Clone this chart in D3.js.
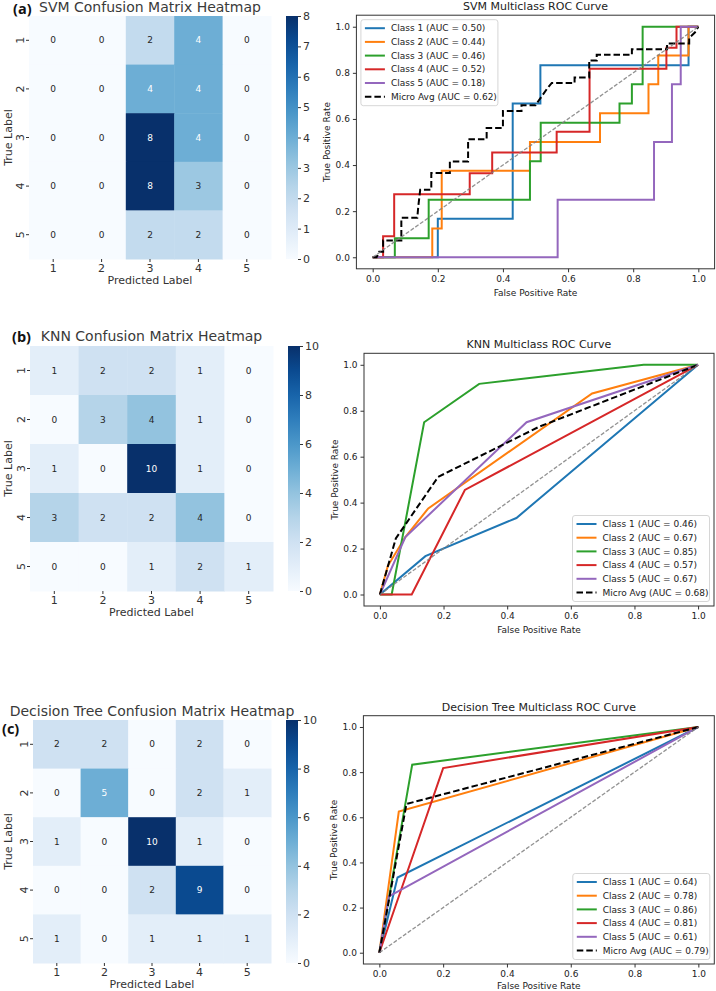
<!DOCTYPE html>
<html lang="en">
<head>
<meta charset="UTF-8"/>
<title>Confusion matrices and ROC curves</title>
<script src="https://cdn.jsdelivr.net/npm/d3@7"></script>
<style>
    body { margin: 0; background: #fff; }
    svg text { font-family: "DejaVu Sans", sans-serif; }
</style>
</head>
<body>
<script>
// ---- data ----
var classLabels = ["1", "2", "3", "4", "5"];

var svmMatrix = [
    [0, 0, 2, 4, 0],
    [0, 0, 4, 4, 0],
    [0, 0, 8, 4, 0],
    [0, 0, 8, 3, 0],
    [0, 0, 2, 2, 0]
];
var knnMatrix = [
    [1, 2, 2, 1, 0],
    [0, 3, 4, 1, 0],
    [1, 0, 10, 1, 0],
    [3, 2, 2, 4, 0],
    [0, 0, 1, 2, 1]
];
var dtMatrix = [
    [2, 2, 0, 2, 0],
    [0, 5, 0, 2, 1],
    [1, 0, 10, 1, 0],
    [0, 0, 2, 9, 0],
    [1, 0, 1, 1, 1]
];

var svmCbarTicks = [0, 1, 2, 3, 4, 5, 6, 7, 8];
var tenCbarTicks = [0, 2, 4, 6, 8, 10];
var rocTicks = [0, 0.2, 0.4, 0.6, 0.8, 1.0];

var seriesNames = ["Class 1", "Class 2", "Class 3", "Class 4", "Class 5", "Micro Avg"];
var svmAuc = [0.50, 0.44, 0.46, 0.52, 0.18, 0.62];
var knnAuc = [0.46, 0.67, 0.85, 0.57, 0.67, 0.68];
var dtAuc = [0.64, 0.78, 0.86, 0.81, 0.61, 0.79];

// [fpr, tpr] vertices, class 1..5 then micro average
var svmCurves = [
    [[0,0],[0.2,0],[0.2,0.167],[0.43,0.167],[0.43,0.667],[0.515,0.667],[0.515,0.833],[0.97,0.833],[0.97,1],[1,1]],
    [[0,0],[0.183,0],[0.183,0.125],[0.212,0.125],[0.212,0.375],[0.483,0.375],[0.483,0.5],[0.698,0.5],[0.698,0.625],[0.847,0.625],[0.847,0.75],[0.877,0.75],[0.877,0.875],[0.97,0.875],[0.97,1],[1,1]],
    [[0,0],[0.068,0],[0.068,0.083],[0.172,0.083],[0.172,0.25],[0.483,0.25],[0.483,0.417],[0.516,0.417],[0.516,0.583],[0.758,0.583],[0.758,0.667],[0.796,0.667],[0.796,0.75],[0.829,0.75],[0.829,1],[1,1]],
    [[0,0],[0.032,0],[0.032,0.091],[0.066,0.091],[0.066,0.273],[0.298,0.273],[0.298,0.364],[0.367,0.364],[0.367,0.455],[0.565,0.455],[0.565,0.545],[0.666,0.545],[0.666,0.818],[0.902,0.818],[0.902,0.909],[0.933,0.909],[0.933,1],[1,1]],
    [[0,0],[0.568,0],[0.568,0.25],[0.864,0.25],[0.864,0.5],[0.919,0.5],[0.919,0.75],[0.946,0.75],[0.946,1],[1,1]],
    [[0,0],[0.012,0],[0.02,0.024],[0.032,0.024],[0.032,0.073],[0.088,0.073],[0.088,0.171],[0.137,0.171],[0.14,0.22],[0.146,0.293],[0.18,0.293],[0.18,0.366],[0.237,0.366],[0.237,0.415],[0.293,0.415],[0.293,0.512],[0.35,0.512],[0.35,0.561],[0.4,0.561],[0.4,0.634],[0.457,0.634],[0.457,0.659],[0.5,0.659],[0.51,0.68],[0.52,0.70],[0.535,0.73],[0.55,0.756],[0.62,0.756],[0.62,0.78],[0.665,0.78],[0.665,0.854],[0.688,0.854],[0.688,0.878],[0.796,0.878],[0.796,0.902],[0.904,0.902],[0.904,0.927],[0.972,0.927],[0.972,0.951],[0.99,0.976],[1,1]]
];
var knnCurves = [
    [[0,0],[0.143,0.167],[0.429,0.333],[1,1]],
    [[0,0],[0.025,0.125],[0.08,0.25],[0.152,0.375],[0.667,0.875],[1,1]],
    [[0,0],[0.037,0],[0.139,0.75],[0.312,0.917],[0.829,1],[1,1]],
    [[0,0],[0.1,0],[0.267,0.455],[1,1]],
    [[0,0],[0.08,0.25],[0.461,0.75],[1,1]],
    [[0,0],[0.05,0.244],[0.183,0.512],[0.5,0.73],[1,1]]
];
var dtCurves = [
    [[0,0],[0.057,0.333],[1,1]],
    [[0,0],[0.061,0.625],[1,1]],
    [[0,0],[0.103,0.833],[1,1]],
    [[0,0],[0.2,0.818],[1,1]],
    [[0,0],[0.03,0.25],[1,1]],
    [[0,0],[0.085,0.659],[1,1]]
];

// ---- styles ----
var lineColors = ["#1f77b4", "#ff7f0e", "#2ca02c", "#d62728", "#9467bd", "#000"];

var svg = d3.select("body").append("svg")
    .attr("width", 716)
    .attr("height", 991);

function luminance(c) {
    var rgb = d3.rgb(c);
    function f(v) {
        v = v / 255;
        return v <= 0.03928 ? v / 12.92 : Math.pow((v + 0.055) / 1.055, 2.4);
    }
    return 0.2126 * f(rgb.r) + 0.7152 * f(rgb.g) + 0.0722 * f(rgb.b);
}

function drawHeatmap(matrix, title, tag, cbTicks, L, id) {
    var g = svg.append("g");
    var x = d3.scaleBand().domain(classLabels).range([L.x0, L.x1]);
    var y = d3.scaleBand().domain(classLabels).range([L.y0, L.y1]);
    var vmax = d3.max(cbTicks);
    var color = d3.scaleSequential(d3.interpolateBlues).domain([0, vmax]);

    var cells = [];
    matrix.forEach(function(row, i) {
        row.forEach(function(v, j) {
            cells.push({ r: classLabels[i], c: classLabels[j], v: v });
        });
    });

    g.selectAll("rect.cell")
        .data(cells)
        .enter()
        .append("rect")
        .attr("class", "cell")
        .attr("x", function(d) { return x(d.c); })
        .attr("y", function(d) { return y(d.r); })
        .attr("width", x.bandwidth() + 0.5)
        .attr("height", y.bandwidth() + 0.5)
        .attr("fill", function(d) { return color(d.v); });

    g.selectAll("text.annot")
        .data(cells)
        .enter()
        .append("text")
        .attr("class", "annot")
        .attr("x", function(d) { return x(d.c) + x.bandwidth() / 2; })
        .attr("y", function(d) { return y(d.r) + y.bandwidth() / 2; })
        .attr("dy", "0.35em")
        .attr("text-anchor", "middle")
        .attr("font-size", 9)
        .attr("fill", function(d) { return luminance(color(d.v)) > 0.408 ? "#262626" : "#fff"; })
        .text(function(d) { return d.v; });

    // axes
    var xAxis = g.append("g")
        .attr("transform", "translate(0," + L.y1 + ")")
        .call(d3.axisBottom(x).tickSize(3).tickPadding(2));
    xAxis.select(".domain").remove();
    xAxis.selectAll("line").attr("stroke", "#333");
    xAxis.selectAll("text").attr("font-size", 11).attr("fill", "#333")
        .attr("font-family", "DejaVu Sans");

    var yAxis = g.append("g")
        .attr("transform", "translate(" + L.x0 + ",0)")
        .call(d3.axisLeft(y).tickSize(3));
    yAxis.select(".domain").remove();
    yAxis.selectAll("line").attr("stroke", "#333");
    yAxis.selectAll("text")
        .attr("x", null).attr("dy", null)
        .attr("text-anchor", "middle")
        .attr("transform", "translate(-5,0) rotate(-90)")
        .attr("font-size", 11).attr("fill", "#333")
        .attr("font-family", "DejaVu Sans");

    g.append("text")
        .attr("x", (L.x0 + L.x1) / 2)
        .attr("y", L.y1 + 25)
        .attr("text-anchor", "middle")
        .attr("font-size", 11).attr("fill", "#333")
        .text("Predicted Label");

    g.append("text")
        .attr("transform", "translate(12," + ((L.y0 + L.y1) / 2) + ") rotate(-90)")
        .attr("text-anchor", "middle")
        .attr("font-size", 11).attr("fill", "#333")
        .text("True Label");

    // colorbar
    var grad = svg.append("defs").append("linearGradient")
        .attr("id", id)
        .attr("x1", "0").attr("y1", "1").attr("x2", "0").attr("y2", "0");
    d3.range(0, 1.0001, 0.1).forEach(function(t) {
        grad.append("stop").attr("offset", t).attr("stop-color", d3.interpolateBlues(t));
    });
    g.append("rect")
        .attr("x", L.cbX)
        .attr("y", L.y0)
        .attr("width", 12)
        .attr("height", L.y1 - L.y0)
        .attr("fill", "url(#" + id + ")");
    var cbScale = d3.scaleLinear().domain([0, vmax]).range([L.y1, L.y0]);
    var cbAxis = g.append("g")
        .attr("transform", "translate(" + (L.cbX + 12) + ",0)")
        .call(d3.axisRight(cbScale).tickValues(cbTicks).tickSize(3).tickPadding(2));
    cbAxis.select(".domain").remove();
    cbAxis.selectAll("line").attr("stroke", "#333");
    cbAxis.selectAll("text").attr("font-size", 11).attr("fill", "#333")
        .attr("font-family", "DejaVu Sans");

    // title and panel tag
    g.append("text")
        .attr("x", (L.x0 + L.x1) / 2)
        .attr("y", L.titleY)
        .attr("text-anchor", "middle")
        .attr("font-size", 14).attr("fill", "#3a3a3a")
        .text(title);
    g.append("text")
        .attr("x", L.tagX)
        .attr("y", L.tagY)
        .style("font-family", "'Open Sans', sans-serif")
        .attr("font-weight", "bold")
        .attr("font-size", 14.5)
        .attr("fill", "#111")
        .text(tag);
}

function drawRoc(curves, aucs, title, L) {
    var g = svg.append("g");
    var x = d3.scaleLinear().domain([-0.05, 1.05]).range([L.fx0, L.fx1]);
    var y = d3.scaleLinear().domain([-0.05, 1.05]).range([L.fy1, L.fy0]);
    var clipId = "clip" + Math.round(L.fy0);

    g.append("clipPath").attr("id", clipId).append("rect")
        .attr("x", L.fx0).attr("y", L.fy0)
        .attr("width", L.fx1 - L.fx0).attr("height", L.fy1 - L.fy0);

    var line = d3.line()
        .x(function(d) { return x(d[0]); })
        .y(function(d) { return y(d[1]); });

    var plot = g.append("g").attr("clip-path", "url(#" + clipId + ")");

    plot.selectAll("path.roc")
        .data(curves)
        .enter()
        .append("path")
        .attr("class", "roc")
        .attr("d", line)
        .attr("fill", "none")
        .attr("stroke", function(d, i) { return lineColors[i]; })
        .attr("stroke-width", 2)
        .attr("stroke-dasharray", function(d, i) { return i === 5 ? "6.5,3" : null; })
        .attr("stroke-linejoin", "miter");

    // chance diagonal
    plot.append("path")
        .attr("d", line([[0, 0], [1, 1]]))
        .attr("stroke", "#7f7f7f")
        .attr("stroke-opacity", 0.85)
        .attr("stroke-width", 1.3)
        .attr("stroke-dasharray", "4,1.8")
        .attr("fill", "none");

    // frame
    g.append("rect")
        .attr("x", L.fx0).attr("y", L.fy0)
        .attr("width", L.fx1 - L.fx0).attr("height", L.fy1 - L.fy0)
        .attr("fill", "none")
        .attr("stroke", "#333")
        .attr("stroke-width", 1);

    var xAxis = g.append("g")
        .attr("transform", "translate(0," + L.fy1 + ")")
        .call(d3.axisBottom(x).tickValues(rocTicks).tickFormat(d3.format(".1f")).tickSize(3.5).tickPadding(3));
    xAxis.select(".domain").remove();
    xAxis.selectAll("line").attr("stroke", "#333");
    xAxis.selectAll("text").attr("font-size", 9).attr("fill", "#222")
        .attr("font-family", "DejaVu Sans");

    var yAxis = g.append("g")
        .attr("transform", "translate(" + L.fx0 + ",0)")
        .call(d3.axisLeft(y).tickValues(rocTicks).tickFormat(d3.format(".1f")).tickSize(3.5).tickPadding(3));
    yAxis.select(".domain").remove();
    yAxis.selectAll("line").attr("stroke", "#333");
    yAxis.selectAll("text").attr("font-size", 9).attr("fill", "#222")
        .attr("font-family", "DejaVu Sans");

    g.append("text")
        .attr("x", (L.fx0 + L.fx1) / 2)
        .attr("y", L.fy1 + L.xlabelGap)
        .attr("text-anchor", "middle")
        .attr("font-size", 9).attr("fill", "#222")
        .text("False Positive Rate");
    g.append("text")
        .attr("transform", "translate(" + (L.fx0 - 26) + "," + ((L.fy0 + L.fy1) / 2) + ") rotate(-90)")
        .attr("text-anchor", "middle")
        .attr("font-size", 9).attr("fill", "#222")
        .text("True Positive Rate");
    g.append("text")
        .attr("x", (L.fx0 + L.fx1) / 2)
        .attr("y", L.fy0 - 5)
        .attr("text-anchor", "middle")
        .attr("font-size", 11).attr("fill", "#222")
        .text(title);

    // legend
    var lw = 137, lh = 86, rowH = 13.7;
    var lx = L.legendRight ? L.fx1 - 4.5 - lw : L.fx0 + 4.5;
    var ly = L.legendRight ? L.fy1 - 4.5 - lh : L.fy0 + 4.5;
    var leg = g.append("g").attr("transform", "translate(" + lx + "," + ly + ")");
    leg.append("rect")
        .attr("width", lw).attr("height", lh)
        .attr("rx", 2.5)
        .attr("fill", "#fff").attr("fill-opacity", 0.8)
        .attr("stroke", "#ccc").attr("stroke-width", 0.8);
    var items = leg.selectAll("g.item")
        .data(seriesNames)
        .enter()
        .append("g")
        .attr("class", "item")
        .attr("transform", function(d, i) { return "translate(0," + (8.5 + i * rowH) + ")"; });
    items.append("line")
        .attr("x1", 4).attr("x2", 24)
        .attr("stroke", function(d, i) { return lineColors[i]; })
        .attr("stroke-width", 2)
        .attr("stroke-dasharray", function(d, i) { return i === 5 ? "6.5,3" : null; });
    items.append("text")
        .attr("x", 30)
        .attr("dy", "0.35em")
        .attr("font-size", 9).attr("fill", "#222")
        .text(function(d, i) { return d + " (AUC = " + d3.format(".2f")(aucs[i]) + ")"; });
}

drawHeatmap(svmMatrix, "SVM Confusion Matrix Heatmap", "(a)", svmCbarTicks,
    { x0: 29, x1: 271, y0: 16, y1: 259, cbX: 286, titleY: 12, tagX: 13, tagY: 13.5 }, "gradSvm");
drawHeatmap(knnMatrix, "KNN Confusion Matrix Heatmap", "(b)", tenCbarTicks,
    { x0: 30, x1: 273, y0: 346, y1: 591, cbX: 288, titleY: 341, tagX: 12, tagY: 341.5 }, "gradKnn");
drawHeatmap(dtMatrix, "Decision Tree Confusion Matrix Heatmap", "(c)", tenCbarTicks,
    { x0: 33, x1: 271, y0: 720, y1: 963, cbX: 286, titleY: 716, tagX: 2, tagY: 734 }, "gradDt");

drawRoc(svmCurves, svmAuc, "SVM Multiclass ROC Curve",
    { fx0: 356.4, fx1: 714.6, fy0: 15.2, fy1: 268.8, legendRight: false, xlabelGap: 27 });
drawRoc(knnCurves, knnAuc, "KNN Multiclass ROC Curve",
    { fx0: 364, fx1: 714, fy0: 353.3, fy1: 606, legendRight: true, xlabelGap: 27 });
drawRoc(dtCurves, dtAuc, "Decision Tree Multiclass ROC Curve",
    { fx0: 363.4, fx1: 714.3, fy0: 715.7, fy1: 964, legendRight: true, xlabelGap: 25 });
</script>
</body>
</html>
